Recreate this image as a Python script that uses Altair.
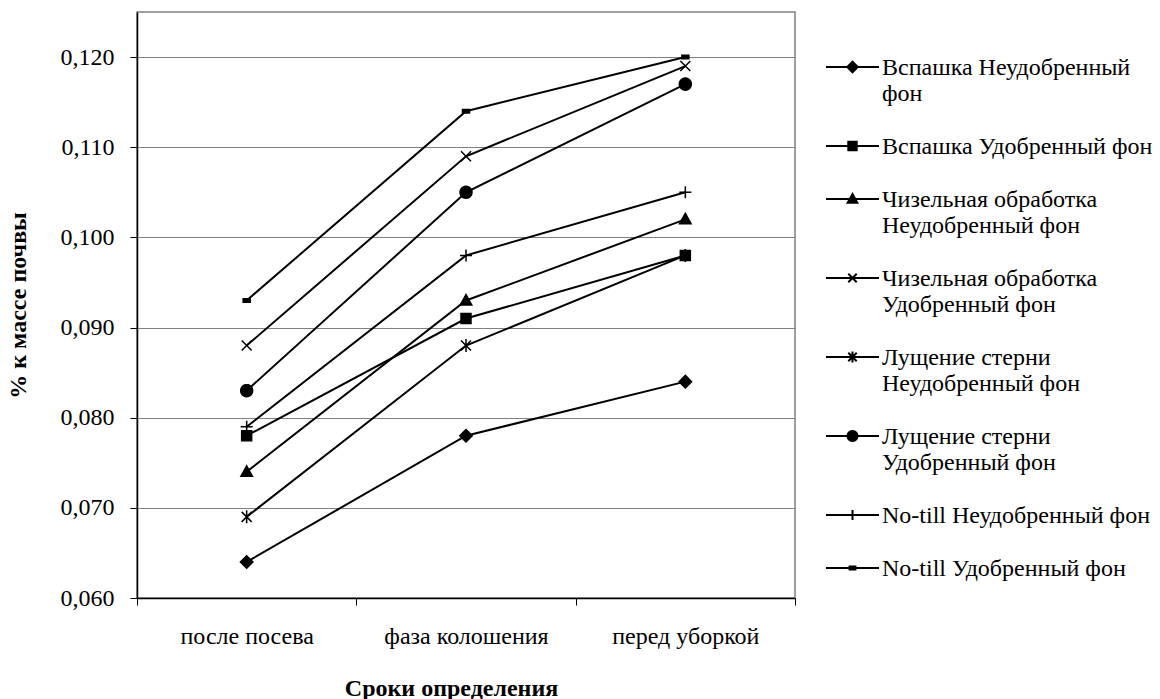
import math

import altair as alt
import pandas as pd

# Sampling dates (x categories)
periods = ["после посева", "фаза колошения", "перед уборкой"]

# Treatment series, in legend order
series = [
    "Вспашка Неудобренный фон",
    "Вспашка Удобренный фон",
    "Чизельная обработка Неудобренный фон",
    "Чизельная обработка Удобренный фон",
    "Лущение стерни Неудобренный фон",
    "Лущение стерни Удобренный фон",
    "No-till Неудобренный фон",
    "No-till Удобренный фон",
]

# Legend label line breaks
legend_lines = [
    ["Вспашка Неудобренный", "фон"],
    ["Вспашка Удобренный фон"],
    ["Чизельная обработка", "Неудобренный фон"],
    ["Чизельная обработка", "Удобренный фон"],
    ["Лущение стерни", "Неудобренный фон"],
    ["Лущение стерни", "Удобренный фон"],
    ["No-till Неудобренный фон"],
    ["No-till Удобренный фон"],
]

# Values, % of soil mass
vspashka_neud = [0.064, 0.078, 0.084]
vspashka_ud = [0.078, 0.091, 0.098]
chizel_neud = [0.074, 0.093, 0.102]
chizel_ud = [0.088, 0.109, 0.119]
lushch_neud = [0.069, 0.088, 0.098]
lushch_ud = [0.083, 0.105, 0.117]
notill_neud = [0.079, 0.098, 0.105]
notill_ud = [0.093, 0.114, 0.120]

y_ticks = [0.06, 0.07, 0.08, 0.09, 0.10, 0.11, 0.12]

all_values = [vspashka_neud, vspashka_ud, chizel_neud, chizel_ud,
              lushch_neud, lushch_ud, notill_neud, notill_ud]

rows = []
for name, vals in zip(series, all_values):
    for p, v in zip(periods, vals):
        rows.append({"series": name, "period": p, "value": v})
df = pd.DataFrame(rows)

# ---- marker geometry (unit coordinates, subpaths as (points, closed)) ----
circle_pts = [(1.2 * math.cos(2 * math.pi * i / 24), 1.2 * math.sin(2 * math.pi * i / 24))
              for i in range(24)]
markers = [
    [([(0, -1.25), (1.25, 0), (0, 1.25), (-1.25, 0)], True)],                  # diamond
    [([(-1, -1), (1, -1), (1, 1), (-1, 1)], True)],                             # square
    [([(0, -1.2), (1.15, 0.9), (-1.15, 0.9)], True)],                           # triangle
    [([(-1, -1), (1, 1)], False), ([(-1, 1), (1, -1)], False)],                 # x
    [([(-1, -1), (1, 1)], False), ([(-1, 1), (1, -1)], False),
     ([(0, -1.3), (0, 1.3)], False)],                                           # asterisk
    [(circle_pts, True)],                                                       # circle
    [([(0, -1.2), (0, 1.2)], False), ([(-1.2, 0), (1.2, 0)], False)],           # plus
    [([(-0.7, -0.35), (0.7, -0.35), (0.7, 0.35), (-0.7, 0.35)], True)],         # dash
]


def to_path(subpaths, k=1.0, dy=0.0):
    out = []
    for pts, closed in subpaths:
        seg = "M" + "L".join(f"{x * k:.4f},{y * k + dy:.4f}" for x, y in pts)
        if closed:
            seg += "Z"
        out.append(seg)
    return "".join(out)


plot_shapes = [to_path(m) for m in markers]

# legend symbol: horizontal line with a small marker in the middle
LEG_SIZE = 900          # symbol box of 30 px -> 15 px per path unit
LEG_HALF = 26.5 / 15    # half length of the line, in path units
LEG_DY = 11 / 15        # line sits level with the first label line
LEG_K = 4.2 / 15        # marker scale inside the legend symbol
legend_shapes = [
    f"M{-LEG_HALF:.4f},{LEG_DY:.4f}H{LEG_HALF:.4f}" + to_path(m, k=LEG_K, dy=LEG_DY)
    for m in markers
]

FONT = "Liberation Serif"

label_expr = ""
for name, parts in zip(series, legend_lines):
    arr = "[" + ",".join(f"'{p}'" for p in parts) + "]"
    label_expr += f"datum.label == '{name}' ? {arr} : "
label_expr += "datum.label"

x_enc = alt.X(
    "period:N",
    sort=periods,
    bandPosition=0.5,
    scale=alt.Scale(type="band", paddingInner=0, paddingOuter=0),
    axis=alt.Axis(
        title="Сроки определения",
        tickBand="extent",
        labelAngle=0,
        grid=False,
        domainColor="black",
        domainWidth=1.5,
        tickColor="black",
        tickSize=7,
        labelFont=FONT,
        labelFontSize=24,
        labelColor="black",
        labelPadding=19,
        titleFont=FONT,
        titleFontSize=24,
        titleFontWeight="bold",
        titleColor="black",
        titlePadding=28,
        titleX=314,
        titleAlign="center",
    ),
)

y_enc = alt.Y(
    "value:Q",
    scale=alt.Scale(domain=[0.06, 0.125], nice=False, zero=False),
    axis=alt.Axis(
        title="% к массе почвы",
        values=y_ticks,
        labelExpr="replace(format(datum.value, '.3f'), '.', ',')",
        grid=True,
        gridColor="#808080",
        gridWidth=1,
        domainColor="black",
        domainWidth=1.5,
        tickColor="black",
        tickSize=7,
        labelFont=FONT,
        labelFontSize=24,
        labelColor="black",
        labelPadding=16,
        titleFont=FONT,
        titleFontSize=24,
        titleFontWeight="bold",
        titleColor="black",
        titlePadding=30,
    ),
)

lines = alt.Chart(df).mark_line(color="black", strokeWidth=2).encode(
    x=x_enc, y=y_enc, detail="series:N"
)

points = alt.Chart(df).mark_point(
    filled=True, fill="black", stroke="black", strokeWidth=1.5, size=100, opacity=1
).encode(
    x=x_enc,
    y=y_enc,
    shape=alt.Shape("series:N", scale=alt.Scale(domain=series, range=plot_shapes), legend=None),
)

legend_layer = alt.Chart(df).transform_filter("false").mark_point(
    filled=False, fill="black", stroke="black", strokeWidth=2, opacity=1
).encode(
    x=x_enc,
    y=y_enc,
    shape=alt.Shape(
        "series:N",
        scale=alt.Scale(domain=series, range=legend_shapes),
        legend=alt.Legend(
            title=None,
            orient="none",
            legendX=699.5,
            legendY=28,
            symbolSize=LEG_SIZE,
            symbolStrokeWidth=2,
            symbolOpacity=1,
            labelFont=FONT,
            labelFontSize=24,
            labelColor="black",
            labelBaseline="top",
            labelOffset=13.5,
            labelLimit=400,
            labelExpr=label_expr,
            rowPadding=13,
            padding=0,
        ),
    ),
)

chart = (
    alt.layer(lines, points, legend_layer)
    .resolve_scale(shape="independent")
    .resolve_legend(shape="independent")
    .properties(
        width=658,
        height=586,
        autosize="none",
        padding={"left": 137, "top": 12, "right": 365, "bottom": 101},
        background="white",
    )
    .configure_view(stroke="#808080", strokeWidth=1.5)
)

chart.save("out.html", embed_options={"renderer": "svg", "actions": False})
